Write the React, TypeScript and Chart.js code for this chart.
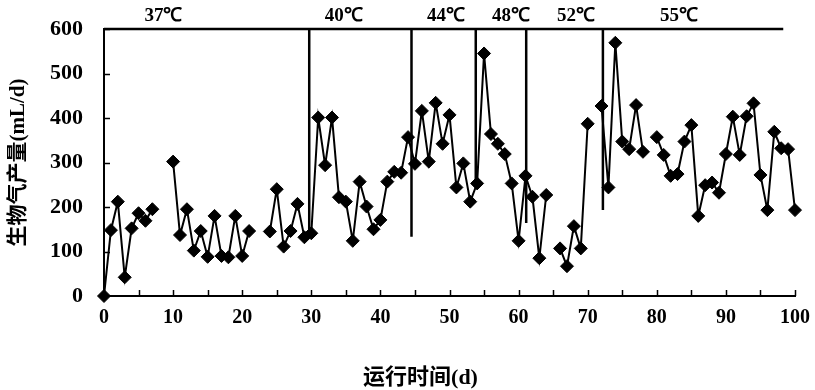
import React, { useEffect, useRef } from 'react';
import { Chart, registerables } from 'chart.js';

Chart.register(...registerables);

// Operating day (d)
const days = [
  0, 1, 2, 3, 4, 5, 6, 7, 8, 9,
  10, 11, 12, 13, 14, 15, 16, 17, 18, 19,
  20, 21, 22, 23, 24, 25, 26, 27, 28, 29,
  30, 31, 32, 33, 34, 35, 36, 37, 38, 39,
  40, 41, 42, 43, 44, 45, 46, 47, 48, 49,
  50, 51, 52, 53, 54, 55, 56, 57, 58, 59,
  60, 61, 62, 63, 64, 65, 66, 67, 68, 69,
  70, 71, 72, 73, 74, 75, 76, 77, 78, 79,
  80, 81, 82, 83, 84, 85, 86, 87, 88, 89,
  90, 91, 92, 93, 94, 95, 96, 97, 98, 99,
  100,
];

// Biogas production (mL/d); null = no measurement
const gas: (number | null)[] = [
  0, 148, 212, 42, 152, 186, 169, 195, null, null,
  302, 137, 195, 102, 146, 88, 180, 90, 87, 180,
  90, 146, null, null, 145, 240, 111, 146, 207, 132,
  141, 401, 294, 401, 222, 212, 124, 257, 201, 150,
  171, 257, 279, 277, 357, 297, 416, 302, 434, 342,
  407, 244, 298, 212, 253, 545, 364, 342, 319, 253,
  124, 270, 223, 85, 227, null, 107, 67, 157, 107,
  387, null, 427, 244, 569, 347, 330, 429, 324, null,
  357, 317, 270, 274, 347, 384, 180, 249, 255, 232,
  319, 403, 317, 404, 433, 272, 193, 369, 332, 330,
  193,
];

const xTickValues = [0, 10, 20, 30, 40, 50, 60, 70, 80, 90, 100];
const yTickValues = [0, 100, 200, 300, 400, 500, 600];

const xTitle = '运行时间(d)';
const yTitle = '生物气产量(mL/d)';

// Temperature stages
const tempLabels = ['37℃', '40℃', '44℃', '48℃', '52℃', '55℃'];
const tempLabelX = [8.6, 34.7, 49.5, 58.9, 68.3, 83.2];
const phaseX = [29.7, 44.5, 53.8, 61.1, 72.2];
const phaseBottom = [137, 133, 250, 164, 193];
const topLineStart = 0;
const topLineEnd = 98.3;
const topLineValue = 600;

const serif = '"Liberation Serif", "Times New Roman", serif';
const cjk = '"Liberation Serif", "Noto Sans CJK SC", serif';

const decorPlugin = {
  id: 'decor',
  afterDatasetsDraw(chart: any) {
    const { ctx, chartArea } = chart;
    const xs = chart.scales.x;
    const ys = chart.scales.y;
    ctx.save();
    ctx.strokeStyle = '#000';
    ctx.lineWidth = 1.5;
    for (let v = 5; v <= 100; v += 5) {
      const px = Math.round(xs.getPixelForValue(v)) + 0.5;
      ctx.beginPath();
      ctx.moveTo(px, chartArea.bottom);
      ctx.lineTo(px, chartArea.bottom - 6);
      ctx.stroke();
    }
    for (const v of yTickValues) {
      if (v === 0) continue;
      const py = Math.round(ys.getPixelForValue(v)) + 0.5;
      ctx.beginPath();
      ctx.moveTo(chartArea.left, py);
      ctx.lineTo(chartArea.left + 6, py);
      ctx.stroke();
    }
    ctx.fillStyle = '#000';
    ctx.font = 'bold 19px ' + serif;
    ctx.textAlign = 'center';
    ctx.textBaseline = 'middle';
    tempLabels.forEach((t, i) => {
      ctx.fillText(t, xs.getPixelForValue(tempLabelX[i]), chartArea.top - 13);
    });
    // x-axis title (offset left of the plot centre, as in the original)
    ctx.font = 'bold 22px ' + cjk;
    ctx.fillText(xTitle, chart.width / 2 + 13, chart.height - 12);
    ctx.restore();
  },
};

export default function App() {
  const ref = useRef<HTMLCanvasElement | null>(null);

  useEffect(() => {
    document.body.style.margin = '0';
    const canvas = ref.current;
    if (!canvas) return;

    const mainData = days.map((d, i) => ({ x: d, y: gas[i] }));

    const phaseSets = phaseX.map((px, i) => ({
      data: [
        { x: px, y: topLineValue },
        { x: px, y: phaseBottom[i] },
      ],
      borderColor: '#000',
      borderWidth: 2.5,
      pointRadius: 0,
      pointHoverRadius: 0,
      clip: false as any,
    }));

    const chart = new Chart(canvas, {
      type: 'line',
      data: {
        datasets: [
          {
            data: mainData as any,
            borderColor: '#000',
            borderWidth: 2,
            pointStyle: 'rectRot',
            pointRadius: 6.5,
            pointBackgroundColor: '#000',
            pointBorderColor: '#000',
            pointBorderWidth: 1,
            spanGaps: false,
            clip: false as any,
          },
          {
            data: [
              { x: topLineStart, y: topLineValue },
              { x: topLineEnd, y: topLineValue },
            ],
            borderColor: '#000',
            borderWidth: 2.5,
            pointRadius: 0,
            pointHoverRadius: 0,
            clip: false as any,
          },
          ...phaseSets,
        ],
      },
      options: {
        animation: false,
        responsive: false,
        devicePixelRatio: 1,
        layout: { padding: { left: 0, right: 20, top: 29, bottom: 0 } },
        plugins: {
          legend: { display: false },
          tooltip: { enabled: false },
        },
        scales: {
          x: {
            type: 'linear',
            min: 0,
            max: 100,
            afterBuildTicks: (s: any) => {
              s.ticks = xTickValues.map((v) => ({ value: v }));
            },
            afterFit: (s: any) => {
              s.height = 94;
              s.paddingLeft = 0;
              s.paddingRight = 0;
            },
            grid: { display: true, drawOnChartArea: false, drawTicks: false },
            border: { display: true, color: '#000', width: 2 },
            ticks: {
              color: '#000',
              padding: 10,
              maxRotation: 0,
              font: { family: serif, size: 20, weight: 'bold' },
            },
            title: { display: false },
          },
          y: {
            type: 'linear',
            min: 0,
            max: 600,
            afterBuildTicks: (s: any) => {
              s.ticks = yTickValues.map((v) => ({ value: v }));
            },
            afterFit: (s: any) => {
              s.width = 104;
              s.paddingTop = 0;
              s.paddingBottom = 0;
            },
            grid: { display: true, drawOnChartArea: false, drawTicks: false },
            border: { display: true, color: '#000', width: 2 },
            ticks: {
              color: '#000',
              padding: 21,
              font: { family: serif, size: 22, weight: 'bold' },
            },
            title: {
              display: true,
              text: yTitle,
              color: '#000',
              font: { family: cjk, size: 21, weight: 'bold' },
              padding: { top: 6, bottom: 0 },
            },
          },
        },
      },
      plugins: [decorPlugin],
    });

    return () => chart.destroy();
  }, []);

  return (
    <div style={{ width: 815, height: 390 }}>
      <canvas ref={ref} width={815} height={390} />
    </div>
  );
}
